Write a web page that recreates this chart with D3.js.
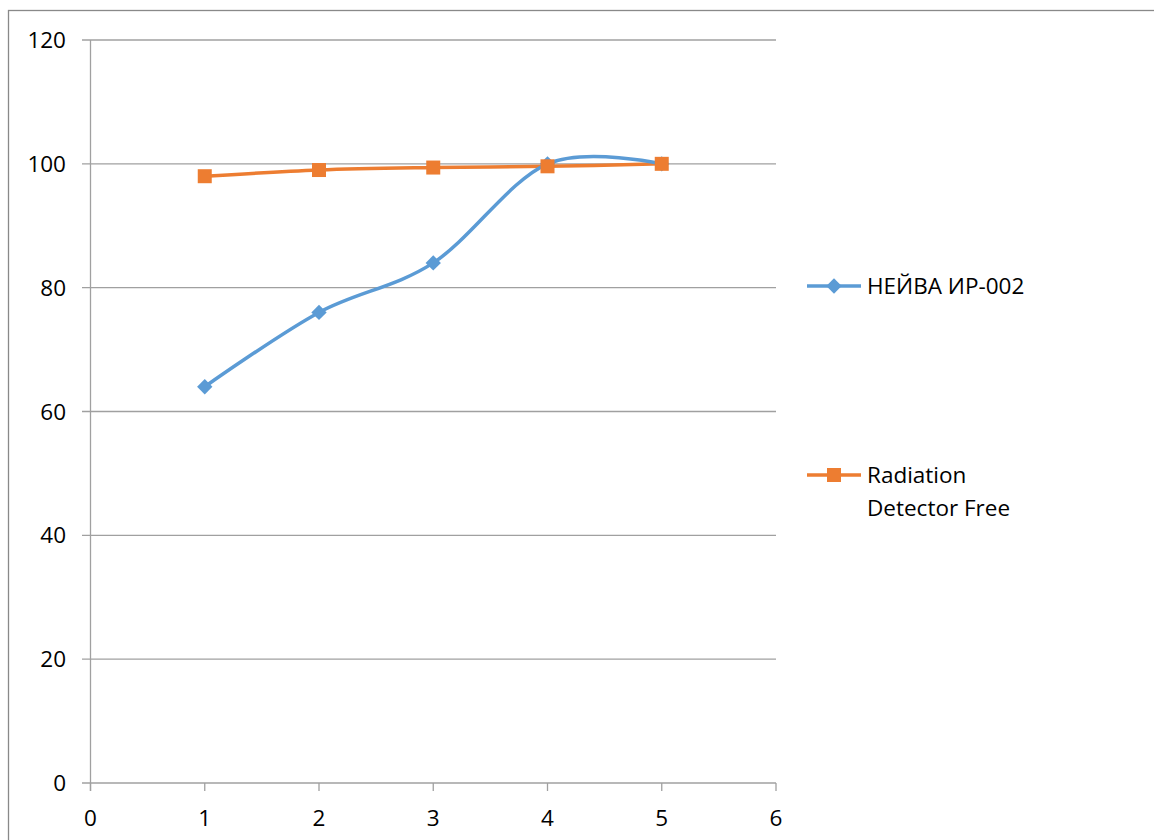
<!DOCTYPE html>
<html><head><meta charset="utf-8">
<script src="https://cdn.jsdelivr.net/npm/d3@7"></script>
<style>body{margin:0;background:#fff}svg{display:block}text{font-family:"Open Sans",sans-serif;fill:#000}</style>
</head><body><svg id="c" width="1154" height="840"></svg>
<script>
const xValues = [1, 2, 3, 4, 5];
const seriesNames = ["НЕЙВА ИР-002", "Radiation Detector Free"];
const neivaValues = [64, 76, 84, 100, 100];
const radiationValues = [98, 99, 99.4, 99.6, 100];
const xTicks = [0, 1, 2, 3, 4, 5, 6];
const yTicks = [0, 20, 40, 60, 80, 100, 120];

const svg = d3.select("#c");
svg.append("rect").attr("x", 8.5).attr("y", 10.5).attr("width", 1200).attr("height", 900)
  .attr("fill", "#fff").attr("stroke", "#898989").attr("stroke-width", 1.3);

const x = d3.scaleLinear().domain([0, 6]).range([90.5, 776]);
const y = d3.scaleLinear().domain([0, 120]).range([783, 40]);
const grid = "#a0a0a0";
const fs = 22.5;

const g = svg.append("g");
g.selectAll(".gl").data(yTicks).join("line")
  .attr("x1", 82).attr("x2", x(6)).attr("y1", d => y(d)).attr("y2", d => y(d))
  .attr("stroke", grid).attr("stroke-width", 1.3);
g.append("line").attr("x1", x(0)).attr("x2", x(0)).attr("y1", y(120)).attr("y2", y(0) + 8)
  .attr("stroke", grid).attr("stroke-width", 1.3);
g.selectAll(".xt").data(xTicks).join("line")
  .attr("x1", d => x(d)).attr("x2", d => x(d)).attr("y1", y(0)).attr("y2", y(0) + 8)
  .attr("stroke", grid).attr("stroke-width", 1.3);
g.selectAll(".xl").data(xTicks).join("text")
  .attr("x", d => x(d)).attr("y", 826).attr("text-anchor", "middle")
  .attr("font-size", fs).text(d => d);
g.selectAll(".yl").data(yTicks).join("text")
  .attr("x", 66).attr("y", d => y(d) + 8).attr("text-anchor", "end")
  .attr("font-size", fs).text(d => d);

const blue = "#5B9BD5", orange = "#ED7D31";
const line = d3.line().x((d, i) => x(xValues[i])).y(d => y(d)).curve(d3.curveCatmullRom.alpha(0));

g.append("path").datum(radiationValues).attr("d", line).attr("fill", "none")
  .attr("stroke", orange).attr("stroke-width", 3.5);
g.append("path").datum(neivaValues).attr("d", line).attr("fill", "none")
  .attr("stroke", blue).attr("stroke-width", 3.5);

const diamond = d3.symbol().type(d3.symbolDiamond2).size(150);
g.selectAll(".bm").data(neivaValues).join("path")
  .attr("transform", (d, i) => `translate(${x(xValues[i])},${y(d)})`)
  .attr("d", diamond).attr("fill", blue);
g.selectAll(".om").data(radiationValues).join("rect")
  .attr("x", (d, i) => x(xValues[i]) - 7).attr("y", d => y(d) - 7)
  .attr("width", 14).attr("height", 14).attr("fill", orange);

const leg = svg.append("g");
leg.append("line").attr("x1", 807).attr("x2", 861).attr("y1", 286).attr("y2", 286)
  .attr("stroke", blue).attr("stroke-width", 3.5);
leg.append("path").attr("transform", "translate(834,286)").attr("d", diamond).attr("fill", blue);
leg.append("text").attr("x", 867).attr("y", 294).attr("font-size", fs).text(seriesNames[0]);

leg.append("line").attr("x1", 807).attr("x2", 861).attr("y1", 475).attr("y2", 475)
  .attr("stroke", orange).attr("stroke-width", 3.5);
leg.append("rect").attr("x", 827).attr("y", 468).attr("width", 14).attr("height", 14).attr("fill", orange);
const t2 = leg.append("text").attr("x", 867).attr("y", 483).attr("font-size", fs);
t2.append("tspan").attr("x", 867).text("Radiation");
t2.append("tspan").attr("x", 867).attr("dy", 33).text("Detector Free");
</script></body></html>
